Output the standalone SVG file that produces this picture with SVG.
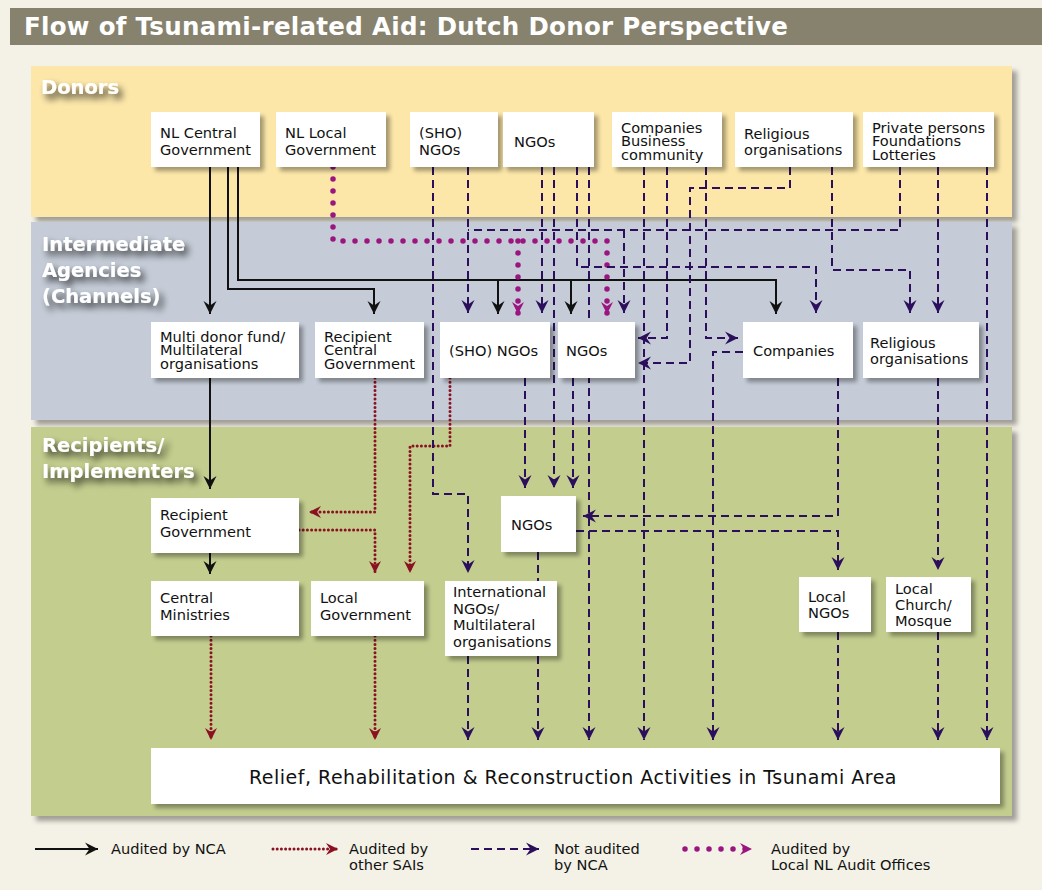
<svg xmlns="http://www.w3.org/2000/svg" width="1042" height="890" viewBox="0 0 1042 890">
  <style>
    .bx { fill: #ffffff; }
    .t { font-family: "DejaVu Sans", "Liberation Sans", sans-serif; font-size: 14.6px; fill: #111; }
    .lg { font-family: "DejaVu Sans", "Liberation Sans", sans-serif; font-size: 14.6px; fill: #111; }
    .sec { font-family: "DejaVu Sans", "Liberation Sans", sans-serif; font-weight: bold; font-size: 19.5px; fill: #ffffff; }
    .k { fill: none; stroke: #111; stroke-width: 2; marker-end: url(#aK); }
    .p { fill: none; stroke: #2b0f5c; stroke-width: 2; stroke-dasharray: 8 5; marker-end: url(#aP); }
    .pn { fill: none; stroke: #2b0f5c; stroke-width: 2; stroke-dasharray: 8 5; }
    .r { fill: none; stroke: #8a1121; stroke-width: 3; stroke-dasharray: 0 4.2; stroke-linecap: round; marker-end: url(#aR); }
    .m { fill: none; stroke: #9b1580; stroke-width: 5.5; stroke-dasharray: 0 12; stroke-linecap: round; marker-end: url(#aM); }
  </style>
  <defs>
    <marker id="aK" viewBox="-14 -7 15 14" refX="0" refY="0" markerWidth="15" markerHeight="14" markerUnits="userSpaceOnUse" orient="auto">
      <path d="M0,0 L-13,-6.5 L-8.5,0 L-13,6.5 Z" fill="#111"/>
    </marker>
    <marker id="aP" viewBox="-14 -7 15 14" refX="0" refY="0" markerWidth="15" markerHeight="14" markerUnits="userSpaceOnUse" orient="auto">
      <path d="M0,0 L-13,-6.5 L-8.5,0 L-13,6.5 Z" fill="#2b0f5c"/>
    </marker>
    <marker id="aR" viewBox="-14 -7 15 14" refX="0" refY="0" markerWidth="15" markerHeight="14" markerUnits="userSpaceOnUse" orient="auto">
      <path d="M0,0 L-12,-6 L-8,0 L-12,6 Z" fill="#8a1121"/>
    </marker>
    <marker id="aM" viewBox="-14 -7 15 14" refX="0" refY="0" markerWidth="15" markerHeight="14" markerUnits="userSpaceOnUse" orient="auto">
      <path d="M0,0 L-12,-6 L-8,0 L-12,6 Z" fill="#9b1580"/>
    </marker>
    <filter id="boxShadow" x="-10%" y="-10%" width="130%" height="150%">
      <feGaussianBlur in="SourceAlpha" stdDeviation="2"/>
      <feOffset dx="4" dy="4"/>
      <feComponentTransfer><feFuncA type="linear" slope="0.35"/></feComponentTransfer>
      <feMerge><feMergeNode/><feMergeNode in="SourceGraphic"/></feMerge>
    </filter>
    <filter id="panelShadow" x="-5%" y="-5%" width="110%" height="115%">
      <feGaussianBlur in="SourceAlpha" stdDeviation="2.5"/>
      <feOffset dx="5" dy="5"/>
      <feComponentTransfer><feFuncA type="linear" slope="0.35"/></feComponentTransfer>
      <feMerge><feMergeNode/><feMergeNode in="SourceGraphic"/></feMerge>
    </filter>
    <filter id="labelShadow" x="-20%" y="-40%" width="150%" height="200%">
      <feGaussianBlur in="SourceAlpha" stdDeviation="3.5"/>
      <feOffset dx="4" dy="5"/>
      <feComponentTransfer><feFuncA type="linear" slope="0.75"/></feComponentTransfer>
      <feMerge><feMergeNode/><feMergeNode in="SourceGraphic"/></feMerge>
    </filter>
  </defs>

  <!-- page and title -->
  <rect x="0" y="0" width="1042" height="890" fill="#f4f1e6"/>
  <rect x="10" y="8" width="1032" height="37" fill="#87826d"/>
  <text x="24" y="35" font-family="'DejaVu Sans', 'Liberation Sans', sans-serif" font-weight="bold" font-size="24.5" letter-spacing="0.3" fill="#ffffff">Flow of Tsunami-related Aid: Dutch Donor Perspective</text>

  <!-- tier panels -->
  <g id="panels">
    <rect x="31" y="66" width="981" height="151" fill="#fce7a9" filter="url(#panelShadow)"/>
    <rect x="31" y="222" width="981" height="198" fill="#c5ccd7" filter="url(#panelShadow)"/>
    <rect x="31" y="427" width="981" height="389" fill="#c3cd8e" filter="url(#panelShadow)"/>
  </g>
  <g id="tier-labels" class="sec" filter="url(#labelShadow)">
    <text x="41" y="94">Donors</text>
    <text x="42" y="251">Intermediate</text>
    <text x="42" y="277">Agencies</text>
    <text x="42" y="303">(Channels)</text>
    <text x="42" y="452">Recipients/</text>
    <text x="42" y="478">Implementers</text>
  </g>

  <!-- connectors -->
  <g id="connectors">
    <!-- audited by NCA -->
    <path class="k" d="M210,167 V314"/>
    <path class="k" d="M228,167 V289 H374 V314"/>
    <path class="k" d="M238,167 V280 H776 V314"/>
    <path class="k" d="M498,280 V314"/>
    <path class="k" d="M571,280 V314"/>
    <path class="k" d="M210,378 V489"/>
    <path class="k" d="M210,553 V574"/>
    <!-- audited by local NL audit offices -->
    <path class="m" d="M333,167 V241 H607 V314"/>
    <path class="m" d="M518,241 V314"/>
    <!-- audited by other SAIs -->
    <path class="r" d="M375,378 V512 H309"/>
    <path class="r" d="M450,378 V446 H410 V573"/>
    <path class="r" d="M299,530 H375 V573"/>
    <path class="r" d="M211,636 V740"/>
    <path class="r" d="M375,636 V740"/>
    <!-- not audited by NCA -->
    <path class="p" d="M433,167 V494 H468 V573"/>
    <path class="p" d="M468,167 V313"/>
    <path class="pn" d="M900,167 V230 H468"/>
    <path class="p" d="M624,230 V313"/>
    <path class="p" d="M542,167 V313"/>
    <path class="p" d="M554,167 V488"/>
    <path class="p" d="M577,167 V267 H816 V313"/>
    <path class="p" d="M589,167 V740"/>
    <path class="p" d="M644,167 V740"/>
    <path class="p" d="M667,167 V338 H638"/>
    <path class="p" d="M790,167 V188 H690 V363 H638"/>
    <path class="p" d="M706,167 V338 H738"/>
    <path class="p" d="M743,352 H713 V740"/>
    <path class="p" d="M832,167 V270 H910 V313"/>
    <path class="p" d="M938,167 V313"/>
    <path class="p" d="M987,167 V740"/>
    <path class="p" d="M525,378 V488"/>
    <path class="p" d="M573,378 V488"/>
    <path class="p" d="M838,378 V516 H583"/>
    <path class="p" d="M576,531 H838 V570"/>
    <path class="p" d="M938,378 V570"/>
    <path class="p" d="M538,552 V740"/>
    <path class="p" d="M468,656 V740"/>
    <path class="p" d="M838,632 V740"/>
    <path class="p" d="M938,632 V740"/>
  </g>

  <!-- donors -->
  <g id="donor-nl-central">
    <rect class="bx" x="151" y="112" width="109" height="55" filter="url(#boxShadow)"/>
    <text class="t" x="160" y="138">NL Central</text>
    <text class="t" x="160" y="155">Government</text>
  </g>
  <g id="donor-nl-local">
    <rect class="bx" x="276" y="112" width="110" height="55" filter="url(#boxShadow)"/>
    <text class="t" x="285" y="138">NL Local</text>
    <text class="t" x="285" y="155">Government</text>
  </g>
  <g id="donor-sho-ngos">
    <rect class="bx" x="410" y="112" width="88" height="55" filter="url(#boxShadow)"/>
    <text class="t" x="419" y="138">(SHO)</text>
    <text class="t" x="419" y="155">NGOs</text>
  </g>
  <g id="donor-ngos">
    <rect class="bx" x="503" y="112" width="91" height="55" filter="url(#boxShadow)"/>
    <text class="t" x="514" y="147">NGOs</text>
  </g>
  <g id="donor-companies">
    <rect class="bx" x="612" y="112" width="110" height="55" filter="url(#boxShadow)"/>
    <text class="t" x="621" y="132.5">Companies</text>
    <text class="t" x="621" y="146">Business</text>
    <text class="t" x="621" y="159.5">community</text>
  </g>
  <g id="donor-religious">
    <rect class="bx" x="735" y="112" width="118" height="55" filter="url(#boxShadow)"/>
    <text class="t" x="744" y="139">Religious</text>
    <text class="t" x="744" y="155">organisations</text>
  </g>
  <g id="donor-private">
    <rect class="bx" x="863" y="112" width="131" height="55" filter="url(#boxShadow)"/>
    <text class="t" x="872" y="132.5">Private persons</text>
    <text class="t" x="872" y="146">Foundations</text>
    <text class="t" x="872" y="159.5">Lotteries</text>
  </g>

  <!-- intermediate agencies -->
  <g id="mid-multidonor">
    <rect class="bx" x="151" y="322" width="148" height="56" filter="url(#boxShadow)"/>
    <text class="t" x="160" y="341.5">Multi donor fund/</text>
    <text class="t" x="160" y="355">Multilateral</text>
    <text class="t" x="160" y="368.5">organisations</text>
  </g>
  <g id="mid-recipient-central">
    <rect class="bx" x="315" y="322" width="109" height="56" filter="url(#boxShadow)"/>
    <text class="t" x="324" y="341.5">Recipient</text>
    <text class="t" x="324" y="355">Central</text>
    <text class="t" x="324" y="368.5">Government</text>
  </g>
  <g id="mid-sho-ngos">
    <rect class="bx" x="440" y="322" width="110" height="56" filter="url(#boxShadow)"/>
    <text class="t" x="449" y="356">(SHO) NGOs</text>
  </g>
  <g id="mid-ngos">
    <rect class="bx" x="558" y="322" width="77" height="56" filter="url(#boxShadow)"/>
    <text class="t" x="566" y="356">NGOs</text>
  </g>
  <g id="mid-companies">
    <rect class="bx" x="743" y="322" width="110" height="56" filter="url(#boxShadow)"/>
    <text class="t" x="753" y="356">Companies</text>
  </g>
  <g id="mid-religious">
    <rect class="bx" x="863" y="322" width="116" height="56" filter="url(#boxShadow)"/>
    <text class="t" x="870" y="347.5">Religious</text>
    <text class="t" x="870" y="363.5">organisations</text>
  </g>

  <!-- recipients / implementers -->
  <g id="rec-government">
    <rect class="bx" x="151" y="498" width="148" height="55" filter="url(#boxShadow)"/>
    <text class="t" x="160" y="520">Recipient</text>
    <text class="t" x="160" y="537">Government</text>
  </g>
  <g id="rec-ngos">
    <rect class="bx" x="501" y="496" width="75" height="56" filter="url(#boxShadow)"/>
    <text class="t" x="511" y="530">NGOs</text>
  </g>
  <g id="rec-central-ministries">
    <rect class="bx" x="151" y="581" width="148" height="55" filter="url(#boxShadow)"/>
    <text class="t" x="160" y="603">Central</text>
    <text class="t" x="160" y="620">Ministries</text>
  </g>
  <g id="rec-local-government">
    <rect class="bx" x="311" y="581" width="113" height="55" filter="url(#boxShadow)"/>
    <text class="t" x="320" y="603">Local</text>
    <text class="t" x="320" y="620">Government</text>
  </g>
  <g id="rec-international">
    <rect class="bx" x="445" y="581" width="112" height="75" filter="url(#boxShadow)"/>
    <text class="t" x="453" y="597">International</text>
    <text class="t" x="453" y="613.5">NGOs/</text>
    <text class="t" x="453" y="630">Multilateral</text>
    <text class="t" x="453" y="646.5">organisations</text>
  </g>
  <g id="rec-local-ngos">
    <rect class="bx" x="799" y="577" width="72" height="55" filter="url(#boxShadow)"/>
    <text class="t" x="808" y="602">Local</text>
    <text class="t" x="808" y="618">NGOs</text>
  </g>
  <g id="rec-local-church">
    <rect class="bx" x="886" y="577" width="85" height="55" filter="url(#boxShadow)"/>
    <text class="t" x="895" y="594">Local</text>
    <text class="t" x="895" y="610">Church/</text>
    <text class="t" x="895" y="626">Mosque</text>
  </g>
  <g id="activities">
    <rect class="bx" x="151" y="748" width="849" height="56" filter="url(#boxShadow)"/>
    <text x="249" y="784" font-family="'DejaVu Sans', 'Liberation Sans', sans-serif" font-size="19" letter-spacing="0.5" fill="#111">Relief, Rehabilitation &amp; Reconstruction Activities in Tsunami Area</text>
  </g>

  <!-- legend -->
  <g id="legend">
    <path class="k" d="M35,849 H98"/>
    <text class="lg" x="111" y="854">Audited by NCA</text>
    <path class="r" d="M273,849 H338"/>
    <text class="lg" x="349" y="854">Audited by</text>
    <text class="lg" x="349" y="870">other SAIs</text>
    <path class="p" d="M471,849 H539"/>
    <text class="lg" x="554" y="854">Not audited</text>
    <text class="lg" x="554" y="870">by NCA</text>
    <path class="m" d="M685,849 H752"/>
    <text class="lg" x="771" y="854">Audited by</text>
    <text class="lg" x="771" y="870">Local NL Audit Offices</text>
  </g>
</svg>
